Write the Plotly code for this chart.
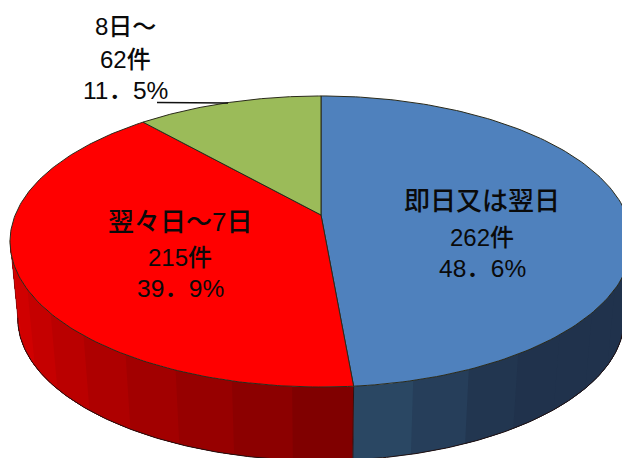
import numpy as np
import plotly.graph_objects as go

W, H = 622, 458

# --- data ---
categories = ["即日又は翌日", "翌々日～7日", "8日～"]
counts = [262, 215, 62]
percents = ["48．6%", "39．9%", "11．5%"]
top_colors = ["#4F81BD", "#FF0000", "#9BBB59"]
# wall shade from the front seam outwards, and the share of the run the change takes
wall_stops = [("#2A4763", "#20324C", 0.35), ("#800000", "#DC0000", 1.0)]
label_xy = [(482, (201, 237, 268)), (180, (222, 257, 288)), (125, (26, 59, 90))]
name_sizes = [26, 26, 24]

# --- perspective model of the pie ---
X0, Y0 = 321.0, 215.0
A, B, K = 305.8, 140.7, 0.182
DEPTH, SHRINK = 78.0, 0.975
LEFT_END, RIGHT_END = 260.0, 100.0


def project(theta_deg, level=0.0):
    t = np.radians(np.asarray(theta_deg, dtype=float))
    u, v = np.sin(t), np.cos(t)
    d = 1 + K * v
    s = 1 - (1 - SHRINK) * level
    return X0 + s * A * u / d, Y0 - s * B * v / d + DEPTH * level


def hex_rgb(c):
    return np.array([int(c[i:i + 2], 16) for i in (1, 3, 5)], dtype=float)


def mix(a, b, f):
    r = hex_rgb(a) * (1 - f) + hex_rgb(b) * f
    return "rgb(%d,%d,%d)" % tuple(r.round())


total = sum(counts)
bounds = np.concatenate([[0], np.cumsum(counts) / total * 360])

fig = go.Figure()


def add_line(x, y, color, width=1.0):
    fig.add_trace(go.Scatter(x=x, y=y, mode="lines", line=dict(color=color, width=width),
                             hoverinfo="skip", showlegend=False))


def wall_stripes(t0, t1, c0, c1, share, band=9.0):
    """Each stripe runs on to the outer end; the next one paints over it, so no gap can open."""
    n = max(1, int(round(abs(t1 - t0) / band)))
    edges = np.linspace(t0, t1, n + 1)
    for i in range(n):
        th = np.linspace(edges[i], t1, 8 * (n - i))
        xt, yt = project(th, 0)
        xb, yb = project(th, 1)
        frac = min(1.0, i / max(1, n - 1) / share)
        fig.add_trace(go.Scatter(
            x=np.r_[xt, xb[::-1], xt[0]], y=np.r_[yt, yb[::-1], yt[0]],
            mode="none", fill="toself", fillcolor=mix(c0, c1, frac),
            hoverinfo="skip", showlegend=False))


seam = bounds[1]
wall_stripes(seam, RIGHT_END, *wall_stops[0])
wall_stripes(seam, LEFT_END, *wall_stops[1])

# Wall outlines
th = np.linspace(RIGHT_END, LEFT_END, 240)
xb, yb = project(th, 1)
add_line(xb, yb, "#201010")
add_line([project(seam, 0)[0], project(seam, 1)[0]],
         [project(seam, 0)[1], project(seam, 1)[1]], "#301010")
add_line([project(LEFT_END, 0)[0], project(LEFT_END, 1)[0]],
         [project(LEFT_END, 0)[1], project(LEFT_END, 1)[1]], "#601010", 0.6)

# Top slices
for i, col in enumerate(top_colors):
    th = np.linspace(bounds[i], bounds[i + 1], 160)
    x, y = project(th, 0)
    fig.add_trace(go.Scatter(
        x=np.r_[X0, x, X0], y=np.r_[Y0, y, Y0], mode="lines", fill="toself",
        fillcolor=col, line=dict(color="#2a2a1a", width=1),
        hoverinfo="skip", showlegend=False))

# Labels
lines = [[categories[i], f"{counts[i]}件", percents[i]] for i in range(3)]
ann = []
for (cx, ys_), txts, nsize in zip(label_xy, lines, name_sizes):
    for yy, t, size in zip(ys_, txts, (nsize, 24, 24.5)):
        ann.append(dict(x=cx, y=yy, xref="x", yref="y", text=t, showarrow=False,
                        xanchor="center", yanchor="middle",
                        font=dict(size=size, color="#0a0a0a", weight=500,
                                  family="Liberation Sans, Noto Sans CJK JP")))

# Leader line of the small slice
fig.add_shape(type="line", x0=157, x1=228, y0=102.5, y1=103, xref="x", yref="y",
              line=dict(color="#111111", width=1.5))

fig.update_layout(
    width=W, height=H, autosize=False,
    margin=dict(l=0, r=0, t=0, b=0),
    paper_bgcolor="white", plot_bgcolor="white",
    xaxis=dict(range=[0, W], visible=False, fixedrange=True),
    yaxis=dict(range=[H, 0], visible=False, fixedrange=True),
    annotations=ann, showlegend=False,
)
fig.write_html("out.html", config=dict(displayModeBar=False),
               post_script="document.body.style.margin='0';document.body.style.overflow='hidden';")
